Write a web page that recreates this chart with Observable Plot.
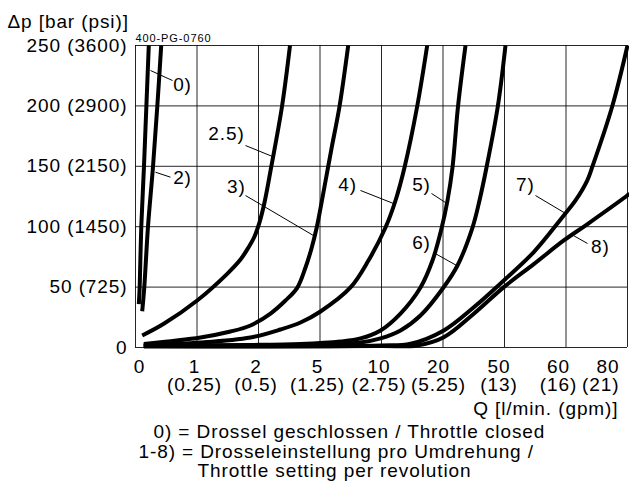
<!DOCTYPE html>
<html><head><meta charset="utf-8">
<script src="https://cdn.jsdelivr.net/npm/d3@7"></script>
<script src="https://cdn.jsdelivr.net/npm/@observablehq/plot@0.6"></script>
<style>body{margin:0;background:#fff;} svg{display:block;}</style>
</head><body><div id="chart"></div>
<script>
// Axis ticks (Q in l/min, piecewise scale) and labels
const xTicks = [0, 1, 2, 5, 10, 20, 50, 60, 80];
const xTickGpm = ["", "(0.25)", "(0.5)", "(1.25)", "(2.75)", "(5.25)", "(13)", "(16)", "(21)"];
const yTicks = [0, 50, 100, 150, 200, 250];
const yTickLabels = ["0", "50 (725)", "100 (1450)", "150 (2150)", "200 (2900)", "250 (3600)"];

// Curves: [Q l/min, Δp bar]
const curve0 = [[0.054,36],[0.068,50],[0.094,100],[0.138,150],[0.177,200],[0.216,250]];
const curve2 = [[0.109,30],[0.143,50],[0.203,100],[0.285,150],[0.355,200],[0.418,250]];
const curve25 = [[0.109,9.9],[0.46,19.6],[1.003,38.9],[1.491,61],[1.707,72.8],[1.837,82.8],[1.935,91.9],[2.049,103.6],[2.293,120],[2.61,148.4],[3.146,199.5],[3.537,250]];
const curve3 = [[0.135,2.9],[1.057,8.3],[1.545,13.2],[1.87,18.2],[2.585,28.1],[3.317,38.9],[3.888,49.4],[4.293,66.2],[4.585,82],[4.829,98.5],[5.081,117.5],[5.488,139.9],[5.935,164.7],[6.585,199.5],[7.293,250]];
const curve4 = [[0.135,2.1],[1.057,4.1],[1.87,8.3],[3.073,14.9],[4.049,20.7],[5.04,29.8],[7.48,49.7],[8.94,72],[10.65,99.3],[12.28,121.7],[13.74,149],[15.8,199.5],[17.43,250]];
const curve5 = [[0.135,1.7],[1.87,2.1],[4.049,2.9],[6.67,5],[8.29,7.5],[9.92,14.1],[13.09,28.1],[16.34,49.7],[18.29,72],[19.76,98.5],[22.2,121.7],[24.63,149],[27.32,199.5],[30.98,250]];
const curve6 = [[0.135,1.2],[1.87,1.7],[5.85,2.5],[8.29,4.1],[9.92,7.5],[13.09,14.1],[16.34,26.5],[20.24,49.7],[27.07,67.9],[34.39,99.3],[37.8,121.7],[41.22,149],[46.73,199.5],[50.16,250]];
const curve7 = [[0.135,1.2],[9.92,1.7],[14.72,3.1],[20.39,14.1],[35.03,33.3],[49.67,55.5],[54.76,79],[59.64,109.3],[63.09,121.7],[66.89,138.2],[68.52,149.3],[75.02,199.5],[80,250]];
const curve8 = [[0.135,0.8],[9.92,1.2],[15.8,1.7],[20.39,8.5],[35.03,28],[49.67,50],[54.76,69],[59.64,88.6],[66.89,102],[80,126],[80.65,127.5]];

const curveNames = ["0)", "2)", "2.5)", "3)", "4)", "5)", "6)", "7)", "8)"];
const curveData = [curve0, curve2, curve25, curve3, curve4, curve5, curve6, curve7, curve8];

// Curve labels (positions in data units)
const labelQ  = [0.764, 0.764, 1.48, 1.64, 7.24, 16.5, 16.5, 53.4, 71.2];
const labelDp = [217.7, 140.7, 177.2, 133.3, 135, 135, 86.9, 135, 83.6];
// Leader lines
const leadQ1  = [0.244, 0.325, 1.789, 1.789, 8.29, 18.13, 18.46, 55.04, 62.4];
const leadDp1 = [229.3, 145.1, 167.2, 125.8, 130, 127.5, 78.6, 125.8, 92.7];
const leadQ2  = [0.602, 0.569, 2.683, 4.68, 11.95, 21.2, 27.6, 59.92, 67.0];
const leadDp2 = [221, 141, 158.1, 92.7, 119.2, 120, 67, 111, 86.1];

const title = "Δp [bar (psi)]";
const code = "400-PG-0760";
const xTitle = "Q [l/min. (gpm)]";
const caption1 = "0) = Drossel geschlossen / Throttle closed";
const caption2 = "1-8) = Drosseleinstellung pro Umdrehung /";
const caption3 = "Throttle setting per revolution";

const rows = curveData.flatMap((c, k) => c.map(([q, p]) => ({setting: curveNames[k], q, p})));
const labels = curveNames.map((t, i) => ({t, q: labelQ[i], p: labelDp[i]}));
const leaders = curveNames.map((t, i) => ({q1: leadQ1[i], p1: leadDp1[i], q2: leadQ2[i], p2: leadDp2[i]}));

const fmtX = d => { const i = xTicks.indexOf(d); return xTickGpm[i] ? `${d}\n${xTickGpm[i]}` : `${d}`; };
const FS = 19;
const xAxisOpts = {tickSize: 0, tickPadding: 11.5, tickFormat: fmtX, fontSize: FS, lineHeight: 1, label: null};

const chart = Plot.plot({
  width: 629,
  height: 491,
  marginTop: 45,
  marginRight: 2,
  marginBottom: 144,
  marginLeft: 135,
  x: {type: "linear", domain: xTicks},
  y: {domain: [0, 250]},
  style: {fontFamily: "'Liberation Sans', Arial, sans-serif", fontSize: "19px", color: "#000", background: "#fff", letterSpacing: "0.9px"},
  marks: [
    Plot.gridX(xTicks, {stroke: "#000", strokeOpacity: 0.85, strokeWidth: 1}),
    Plot.gridY(yTicks, {stroke: "#000", strokeOpacity: 0.85, strokeWidth: 1}),
    Plot.line(rows, {x: "q", y: "p", z: "setting", curve: "catmull-rom", stroke: "#000", strokeWidth: 4, strokeLinecap: "butt"}),
    Plot.link(leaders, {x1: "q1", y1: "p1", x2: "q2", y2: "p2", stroke: "#000", strokeWidth: 1}),
    Plot.text(labels, {x: "q", y: "p", text: "t", fontSize: FS, textAnchor: "middle", lineAnchor: "middle", fill: "#000"}),
    Plot.axisY(yTicks, {tickSize: 0, tickPadding: 8, tickFormat: d => yTickLabels[yTicks.indexOf(d)], fontSize: FS, label: null}),
    Plot.axisX([0], {...xAxisOpts, dx: 4}),
    Plot.axisX([1, 2, 5, 10], {...xAxisOpts, dx: -2.5}),
    Plot.axisX([20], {...xAxisOpts, dx: -4.5}),
    Plot.axisX([50], {...xAxisOpts, dx: -5.5}),
    Plot.axisX([60], {...xAxisOpts, dx: -7.5}),
    Plot.axisX([80], {...xAxisOpts, textAnchor: "end", dx: -8}),
    Plot.text([title], {text: d => d, frameAnchor: "top-left", dx: -128, dy: -24, textAnchor: "start", lineAnchor: "middle", fontSize: FS}),
    Plot.text([code], {text: d => d, frameAnchor: "top-left", dx: 0, dy: -4, textAnchor: "start", lineAnchor: "bottom", fontSize: 11, letterSpacing: "0.3px"}),
    Plot.text([xTitle], {text: d => d, frameAnchor: "bottom-right", dx: -9, dy: 61, textAnchor: "end", lineAnchor: "middle", fontSize: FS}),
    Plot.text([caption1], {text: d => d, frameAnchor: "bottom-left", dx: 18, dy: 84.5, textAnchor: "start", lineAnchor: "middle", fontSize: FS}),
    Plot.text([caption2], {text: d => d, frameAnchor: "bottom-left", dx: 3, dy: 104.5, textAnchor: "start", lineAnchor: "middle", fontSize: FS}),
    Plot.text([caption3], {text: d => d, frameAnchor: "bottom-left", dx: 62, dy: 123.5, textAnchor: "start", lineAnchor: "middle", fontSize: FS})
  ]
});
document.getElementById("chart").appendChild(chart);
</script>
</body></html>
